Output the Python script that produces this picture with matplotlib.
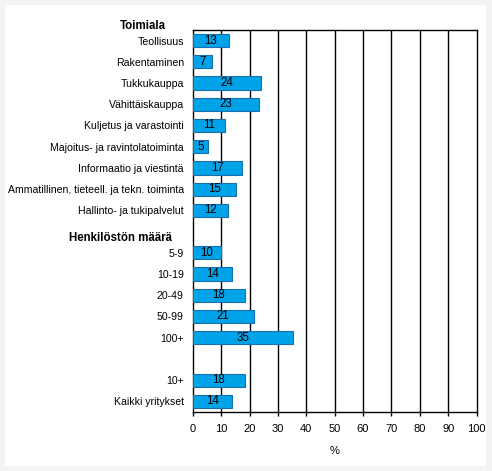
import matplotlib
matplotlib.use("Agg")
import matplotlib.pyplot as plt
from matplotlib.patches import Rectangle

# toimialat
industry_labels = [
    "Teollisuus",
    "Rakentaminen",
    "Tukkukauppa",
    "Vähittäiskauppa",
    "Kuljetus ja varastointi",
    "Majoitus- ja ravintolatoiminta",
    "Informaatio ja viestintä",
    "Ammatillinen, tieteell. ja tekn. toiminta",
    "Hallinto- ja tukipalvelut",
]
industry_values = [12.8, 6.8, 23.9, 23.2, 11.2, 5.4, 17.4, 15.1, 12.3]

# henkilöstön määrä
size_labels = ["5-9", "10-19", "20-49", "50-99", "100+"]
size_values = [10.0, 13.9, 18.3, 21.4, 35.2]

total_labels = ["10+", "Kaikki yritykset"]
total_values = [18.3, 13.9]

headers = ["Toimiala", "Henkilöstön määrä"]
xticks = list(range(0, 101, 10))

plt.rcParams["font.family"] = ["Liberation Sans", "DejaVu Sans"]

# slot layout: industries, header, sizes, blank, totals
labels = industry_labels + [""] + size_labels + [""] + total_labels
values = industry_values + [None] + size_values + [None] + total_values
header_pos = [-1, len(industry_labels)]
header_x = [-17.7, -25.4]

fig = plt.figure(figsize=(4.92, 4.71), dpi=100)
fig.patch.set_facecolor("#f3f3f3")
fig.patches.append(Rectangle((5 / 492, 5 / 471), 481 / 492, 461 / 471,
                             transform=fig.transFigure, facecolor="white",
                             edgecolor="none", zorder=-10))
ax = fig.add_axes([0.392, 0.1253, 0.5765, 0.811])
ax.set_facecolor("white")

for i, v in enumerate(values):
    if v is None:
        continue
    ax.barh(i, v, height=0.62, color="#00a2e8", edgecolor="#1a6fb0",
            linewidth=0.8, zorder=3)
    ax.text(v / 2, i, f"{round(v)}", ha="center", va="center",
            fontsize=8.3, color="black", zorder=4)

for x in xticks[1:-1]:
    ax.axvline(x, color="black", linewidth=1.0, zorder=1)

ax.set_xlim(0, 100)
ax.set_ylim(len(labels) - 0.5, -0.5)
ax.set_xticks(xticks)
ax.set_yticks(range(len(labels)))
ax.set_yticklabels(labels, fontsize=7.6)
ax.tick_params(axis="y", length=0, pad=6.5)
ax.tick_params(axis="x", length=3, width=1, labelsize=8, pad=6)
ax.set_xlabel("%", fontsize=8, labelpad=8)
for s in ax.spines.values():
    s.set_linewidth(1.0)
    s.set_color("black")

for h, hx, p in zip(headers, header_x, header_pos):
    ax.text(hx, p + 0.3, h, ha="center", va="center", fontsize=8.3,
            fontweight="bold", clip_on=False)

fig.savefig("out.png", dpi=100, facecolor=fig.get_facecolor())
